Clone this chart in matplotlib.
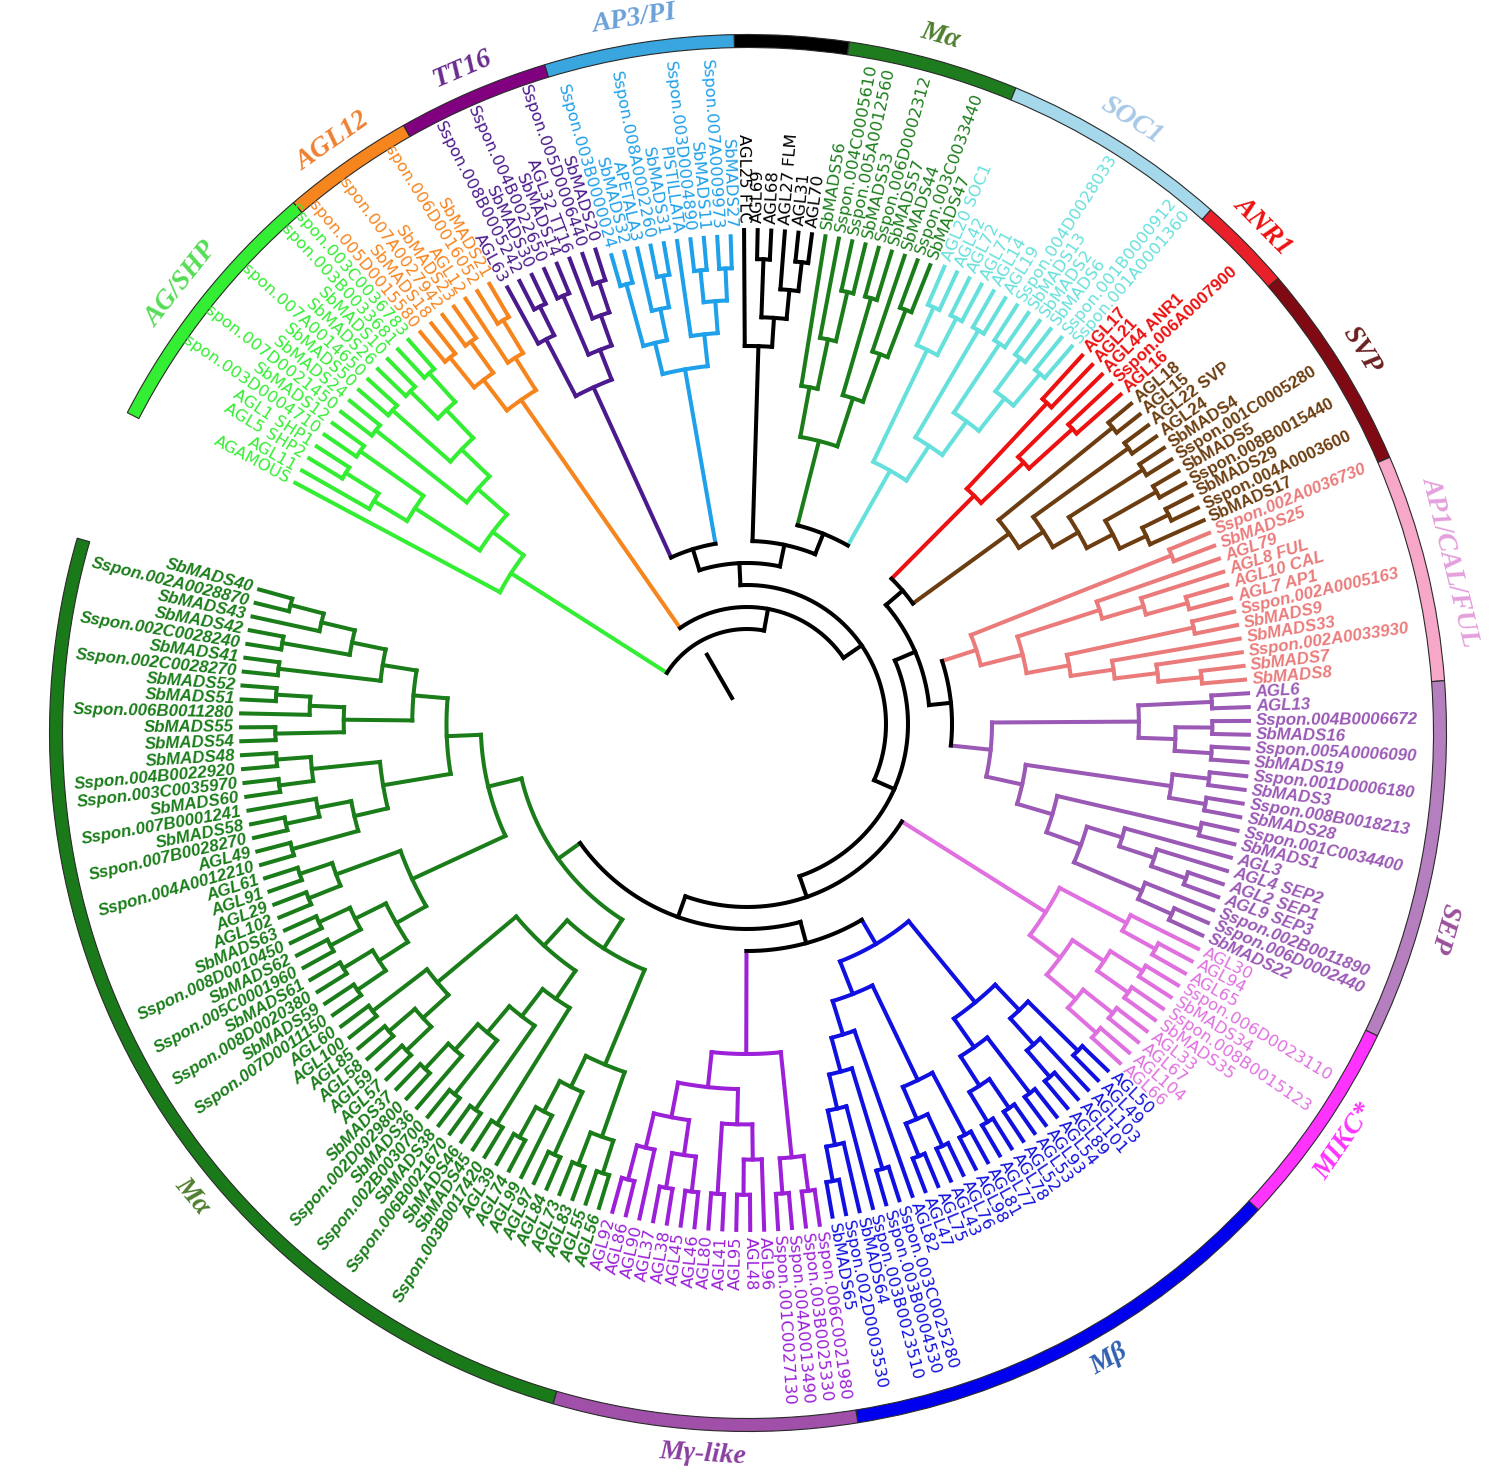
import numpy as np
import matplotlib.pyplot as plt
from matplotlib.patches import Wedge

# ---------------- tree data (leaves listed clockwise) ----------------
AG_SHP = ('AGAMOUS',
          ((('AGL11', ('AGL5 SHP2', 'AGL1 SHP1')), ('Sspon.003D0004710', 'SbMADS12')),
           (('Sspon.007D0021450', 'SbMADS24'),
            (('SbMADS50', 'Sspon.007A0014650'),
             (('SbMADS26', 'SbMADS10'), ('Sspon.003B0033681', 'Sspon.003C0036783'))))))
AGL12 = ((('Sspon.005D0015580', 'SbMADS18'), ('Sspon.007A0027942', 'SbMADS23')),
         ('AGL12', ('Sspon.006D0016052', 'SbMADS21')))
TT16 = (('AGL63', ('Sspon.008B0005242', 'SbMADS30')),
        (('Sspon.004B0022650', 'SbMADS14'), ('AGL32 TT16', ('Sspon.005D0006440', 'SbMADS20'))))
AP3_PI = ((('Sspon.003B0000024', 'SbMADS32'), ('APETALA3', ('Sspon.008A0002260', 'SbMADS31'))),
          ('PISTILLATA', (('Sspon.003D0004890', 'SbMADS11'), ('Sspon.007A0009973', 'SbMADS27'))))
FLC = ('AGL25 FLC', (('AGL69', 'AGL68'), ('AGL27 FLM', ('AGL31', 'AGL70'))))
MA_TOP = (('SbMADS56', ('Sspon.004C0005610', ('Sspon.005A0012560', 'SbMADS53'))),
          (('Sspon.006D0002312', 'SbMADS57'), ('SbMADS44', ('Sspon.003C0033440', 'SbMADS47'))))
SOC1 = ((('AGL20 SOC1', 'AGL42'), ('AGL72', 'AGL71')),
        (('AGL14', 'AGL19'),
         (('Sspon.004D0028033', 'SbMADS13'),
          (('SbMADS2', 'SbMADS6'), ('Sspon.001B0000912', 'Sspon.001A0001360')))))
ANR1 = (('AGL17', 'AGL21'), ('AGL44 ANR1', ('Sspon.006A0007900', 'AGL16')))
SVP = (('AGL18', 'AGL15'),
       (('AGL22 SVP', 'AGL24'),
        (('SbMADS4', 'Sspon.001C0005280'),
         (('SbMADS5', 'Sspon.008B0015440'), (('SbMADS29', 'Sspon.004A0003600'), 'SbMADS17')))))
AP1 = (('Sspon.002A0036730', 'SbMADS25'),
       (('AGL79', ('AGL8 FUL', ('AGL10 CAL', 'AGL7 AP1'))),
        (('Sspon.002A0005163', 'SbMADS9'),
         ('SbMADS33', ('Sspon.002A0033930', ('SbMADS7', 'SbMADS8'))))))
SEP = ((('AGL6', 'AGL13'), (('Sspon.004B0006672', 'SbMADS16'), ('Sspon.005A0006090', 'SbMADS19'))),
       ((('Sspon.001D0006180', 'SbMADS3'), ('Sspon.008B0018213', 'SbMADS28')),
        (('Sspon.001C0034400', 'SbMADS1'),
         (('AGL3', ('AGL4 SEP2', ('AGL2 SEP1', 'AGL9 SEP3'))),
          ('Sspon.002B0011890', ('Sspon.006D0002440', 'SbMADS22'))))))
MIKC = (('AGL30', ('AGL94', 'AGL65')),
        ((('Sspon.006D0023110', 'SbMADS34'), ('Sspon.008B0015123', 'SbMADS35')),
         (('AGL33', 'AGL67'), ('AGL104', 'AGL66'))))
M_BETA = (((('AGL50', 'AGL49'), ('AGL103', ('AGL101', 'AGL89'))),
           (('AGL54', 'AGL93'), (('AGL53', 'AGL52'), ('AGL78', 'AGL77')))),
          ((('AGL81', 'AGL98'), (('AGL76', 'AGL43'), ('AGL75', 'AGL47'))),
           ('AGL82', (('Sspon.003C0025280', 'Sspon.003B0004530'),
                      ('Sspon.003B0023510', ('SbMADS64', ('Sspon.002D0003530', 'SbMADS65')))))))
M_GAMMA = ((('Sspon.006C0021980', 'Sspon.003B0025330'), ('Sspon.004A0013490', 'Sspon.001C0027130')),
           ((('AGL96', ('AGL48', 'AGL95')), ('AGL41', 'AGL80')),
            ((('AGL46', 'AGL45'), ('AGL38', 'AGL37')), ('AGL90', ('AGL86', 'AGL92')))))
MA_1 = ((('AGL56', 'AGL55'), ('AGL83', 'AGL73')), (('AGL84', 'AGL97'), ('AGL99', ('AGL74', 'AGL39'))))
MA_2 = (('Sspon.003B0017420', 'SbMADS45'),
        (('SbMADS46', 'Sspon.006B0021670'),
         (('SbMADS38', 'Sspon.002B0030700'), ('SbMADS36', ('Sspon.002D0029800', 'SbMADS37')))))
MA_3 = ((('AGL57', 'AGL59'), ('AGL58', 'AGL85')), ('AGL100', 'AGL60'))
MA_4 = ((('Sspon.007D0011150', 'SbMADS59'), ('Sspon.008D0020380', 'SbMADS61')),
        (('Sspon.005C0001960', 'SbMADS62'), ('Sspon.008D0010450', 'SbMADS63')))
MA_5 = (('AGL102', 'AGL29'), ('AGL91', 'AGL61'))
MA_6 = (('Sspon.004A0012210', 'AGL49'), (('Sspon.007B0028270', 'SbMADS58'), 'Sspon.007B0001241'))
MA_7 = (('SbMADS60', 'Sspon.003C0035970'), ('Sspon.004B0022920', 'SbMADS48'))
MA_8 = (('SbMADS54', 'SbMADS55'), ('Sspon.006B0011280', ('SbMADS51', 'SbMADS52')))
MA_9 = (('Sspon.002C0028270', 'SbMADS41'),
        (('Sspon.002C0028240', 'SbMADS42'), ('SbMADS43', ('Sspon.002A0028870', 'SbMADS40'))))
MA_LEFT = ((MA_1, (MA_2, MA_3)), ((MA_4, MA_5), ((MA_6, MA_7), (MA_8, MA_9))))

# group order (clockwise), ring labels and backbone topology
group_keys = ['ag', 'agl12', 'tt16', 'ap3', 'flc', 'matop', 'soc1', 'anr1', 'svp',
              'ap1', 'sep', 'mikc', 'mbeta', 'mgamma', 'maleft']
group_trees = [AG_SHP, AGL12, TT16, AP3_PI, FLC, MA_TOP, SOC1, ANR1, SVP,
               AP1, SEP, MIKC, M_BETA, M_GAMMA, MA_LEFT]
ring_labels = ['AG/SHP', 'AGL12', 'TT16', 'AP3/PI', '', 'Mα', 'SOC1', 'ANR1', 'SVP',
               'AP1/CAL/FUL', 'SEP', 'MIKC*', 'Mβ', 'Mγ-like', 'Mα']
BACKBONE = ('ag', ('agl12', ((('tt16', 'ap3'), ('flc', ('matop', 'soc1'))),
                             ((('anr1', 'svp'), ('ap1', 'sep')),
                              ('mikc', (('mbeta', 'mgamma'), 'maleft'))))))

# ---------------- styles ----------------
branch_colors = ['#33ee33', '#f7851e', '#4b1a8c', '#1ea0ea', '#000000', '#1a7d1a', '#66e0dc',
                 '#ee1111', '#6b3d10', '#eb7b7b', '#9b59b6', '#e070e0', '#1010e0', '#9b20d8',
                 '#1a7d1a']
ring_colors = ['#33ee33', '#f7851e', '#800080', '#3aa6e0', '#000000', '#1e7b1e', '#a6d8ec',
               '#e8202a', '#7f0a14', '#f7a8c8', '#b57fbf', '#ff33ff', '#0000ee', '#a050a8',
               '#1a7a1a']
ring_text_colors = ['#55dd55', '#f08030', '#6a2d8f', '#6aa0d8', '#000000', '#4f7f2f', '#a8c8e8',
                    '#ee1111', '#6b1f1f', '#e4a0dc', '#9a4f9a', '#ff33ff', '#2f5fb0', '#8a3fa0',
                    '#4f7f2f']
label_weight = ['normal'] * 7 + ['bold', 'bold', 'bold', 'bold', 'normal', 'normal', 'normal', 'bold']
label_style = ['normal'] * 9 + ['italic', 'italic', 'normal', 'normal', 'normal', 'italic']
tip_r = [512, 510, 498, 488, 494, 494, 498, 498, 500, 500, 502, 504, 500, 506, 506]
root_r = [280, 395, 370, 360, 378, 292, 291, 322, 324, 241, 245, 353, 255, 330, 232]

W, H = 1499, 1478
CX, CY = 747.0, H - 724.0          # tree centre
RX, RY = 748.0, H - 733.0          # ring centre
START, END = 152.7, -196.2
R0, DR = 95, 22
RING_R, RING_W = 692, 13
LW = 2.9

fig = plt.figure(figsize=(W / 100, H / 100), dpi=100)
ax = fig.add_axes([0, 0, 1, 1])
ax.set_xlim(0, W)
ax.set_ylim(0, H)
ax.axis('off')


def nleaves(t):
    return 1 if isinstance(t, str) else sum(nleaves(c) for c in t)


def height(t):
    return 0 if isinstance(t, str) else 1 + max(height(c) for c in t)


def pol(th, r, cx=CX, cy=CY):
    a = np.radians(th)
    return cx + r * np.cos(a), cy + r * np.sin(a)


def radial(th, r0, r1, color):
    x0, y0 = pol(th, r0)
    x1, y1 = pol(th, r1)
    ax.plot([x0, x1], [y0, y1], color=color, lw=LW, solid_capstyle='projecting')


def arc(r, t0, t1, color):
    tt = np.linspace(t0, t1, max(2, int(abs(t1 - t0) * 3) + 2))
    x, y = pol(tt, r)
    ax.plot(x, y, color=color, lw=LW, solid_capstyle='projecting')


total = sum(nleaves(t) for t in group_trees)
STEP = (START - END) / total
counter = [0]
labels = []
group_span = {}


def draw_clade(t, gi, h_root):
    if isinstance(t, str):
        i = counter[0]
        counter[0] += 1
        th = START - (i + 0.5) * STEP
        labels.append((th, tip_r[gi], t, gi))
        return th, tip_r[gi]
    kids = [draw_clade(c, gi, h_root) for c in t]
    r = tip_r[gi] - (tip_r[gi] - root_r[gi]) * height(t) / h_root
    ths = [k[0] for k in kids]
    for th, rc in kids:
        radial(th, r, rc, branch_colors[gi])
    arc(r, min(ths), max(ths), branch_colors[gi])
    return (min(ths) + max(ths)) / 2, r


def draw_backbone(node, depth):
    if isinstance(node, str):
        gi = group_keys.index(node)
        first = counter[0]
        pos = draw_clade(group_trees[gi], gi, height(group_trees[gi]))
        group_span[gi] = (first, counter[0])
        return pos, branch_colors[gi]
    kids = [draw_backbone(c, depth + 1) for c in node]
    r = R0 + DR * depth
    ths = [k[0][0] for k in kids]
    for (th, rc), col in kids:
        radial(th, r, rc, col)
    arc(r, min(ths), max(ths), 'black')
    return ((min(ths) + max(ths)) / 2, r), 'black'


draw_backbone(BACKBONE, 0)
radial(120, 30, 80, 'black')

# leaf labels
for th, rt, name, gi in labels:
    x, y = pol(th, rt + 7)
    a = ((th + 180) % 360) - 180
    if -90 <= a <= 90:
        rot, ha = a, 'left'
    else:
        rot, ha = (a - 180 if a > 0 else a + 180), 'right'
    if label_weight[gi] == 'bold':
        fam, fs = 'Liberation Sans', 12.2
    else:
        fam, fs = 'DejaVu Sans', 11.8
    ax.text(x, y, name, rotation=rot, rotation_mode='anchor', ha=ha, va='center',
            fontsize=fs, color=branch_colors[gi], fontweight=label_weight[gi],
            fontstyle=label_style[gi], family=fam)

# outer ring and clade names
label_angle_shift = {14: 11.0, 10: -5.0, 12: 2.0}
for gi in range(len(group_keys)):
    i0, i1 = group_span[gi]
    hi = START - i0 * STEP
    lo = START - i1 * STEP
    ax.add_patch(Wedge((RX, RY), RING_R + RING_W / 2, lo, hi, width=RING_W,
                       facecolor=ring_colors[gi], edgecolor='#2a2a2a', lw=0.8))
    if not ring_labels[gi]:
        continue
    mid = (hi + lo) / 2 + label_angle_shift.get(gi, 0.0)
    a = ((mid + 180) % 360) - 180
    rot = a - 90 if a > -25 else a + 90
    x, y = pol(mid, RING_R + 31, RX, RY)
    ax.text(x, y, ring_labels[gi], rotation=rot, rotation_mode='anchor', ha='center',
            va='center', fontsize=20, color=ring_text_colors[gi], fontweight='bold',
            fontstyle='italic', family='Liberation Serif')

fig.savefig('out.png', dpi=100)
